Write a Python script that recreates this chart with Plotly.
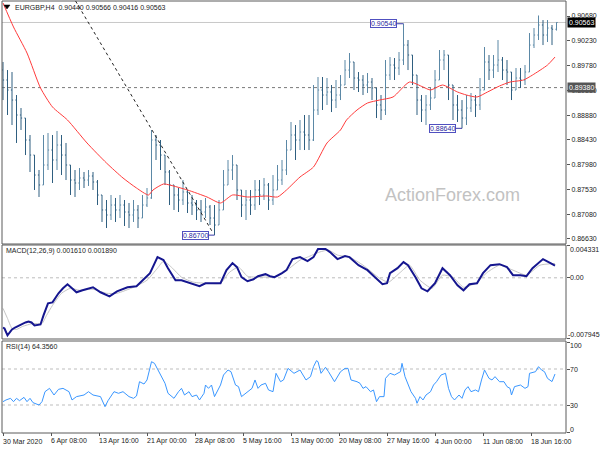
import plotly.graph_objects as go

# ---------------- data ----------------
symbol = "EURGBP,H4"
tick_labels = ["30 Mar 2020", "6 Apr 08:00", "13 Apr 16:00", "21 Apr 00:00", "28 Apr 08:00",
               "5 May 16:00", "13 May 00:00", "20 May 08:00", "27 May 16:00", "4 Jun 00:00",
               "11 Jun 08:00", "18 Jun 16:00"]
tick_bars = [0, 32, 64, 96, 128, 160, 192, 224, 256, 288, 320, 352]   # H4 bar number of each label

bar_index = list(range(0, 370, 3))   # one bar every 3 H4 periods
first_open = 0.89700
closes = [
    0.89518, 0.89336, 0.89154, 0.88882, 0.88827, 0.88428, 0.88155, 0.87792, 0.87611, 0.87974,
    0.88246, 0.88065, 0.88337, 0.88155, 0.87974, 0.87701, 0.87647, 0.87738, 0.87701, 0.87774,
    0.87665, 0.87429, 0.87157, 0.87066, 0.87247, 0.87157, 0.87247, 0.87120, 0.87066, 0.87157,
    0.87011, 0.87247, 0.87375, 0.88428, 0.88337, 0.88155, 0.87847, 0.87611, 0.87429, 0.87338,
    0.87484, 0.87284, 0.87247, 0.87157, 0.87120, 0.87211, 0.87011, 0.86884, 0.87157, 0.87611,
    0.87883, 0.87974, 0.87520, 0.87247, 0.87338, 0.87247, 0.87520, 0.87429, 0.87611, 0.87338,
    0.87520, 0.87701, 0.87883, 0.88246, 0.88519, 0.88428, 0.88573, 0.88519, 0.88428, 0.88973,
    0.89336, 0.89245, 0.89300, 0.89154, 0.89245, 0.89427, 0.89699, 0.89845, 0.89554, 0.89518,
    0.89427, 0.89481, 0.89373, 0.89064, 0.88973, 0.89608, 0.89790, 0.89736, 0.89881, 0.90153,
    0.89972, 0.89608, 0.89154, 0.88973, 0.89064, 0.89191, 0.89518, 0.89881, 0.89972, 0.89427,
    0.89064, 0.88973, 0.88827, 0.89009, 0.89154, 0.89064, 0.89336, 0.89845, 0.89699, 0.89790,
    0.89881, 0.89699, 0.89663, 0.89336, 0.89554, 0.89518, 0.89663, 0.90153, 0.90335, 0.90517,
    0.90335, 0.90462, 0.90440, 0.90563]
highs = [
    0.89845, 0.89699, 0.89663, 0.89245, 0.89009, 0.88700, 0.88519, 0.88155, 0.87883, 0.88519,
    0.88555, 0.88519, 0.88592, 0.88519, 0.88374, 0.87974, 0.87883, 0.87919, 0.87847, 0.87883,
    0.87847, 0.87701, 0.87429, 0.87338, 0.87429, 0.87375, 0.87429, 0.87338, 0.87284, 0.87338,
    0.87247, 0.87429, 0.87556, 0.88610, 0.88519, 0.88428, 0.88065, 0.87883, 0.87611, 0.87556,
    0.87701, 0.87520, 0.87429, 0.87338, 0.87338, 0.87375, 0.87247, 0.87247, 0.87338, 0.87883,
    0.88065, 0.88155, 0.87792, 0.87520, 0.87520, 0.87520, 0.87701, 0.87701, 0.87738, 0.87647,
    0.87792, 0.87974, 0.88065, 0.88428, 0.88755, 0.88700, 0.88791, 0.88882, 0.88882, 0.89427,
    0.89572, 0.89572, 0.89554, 0.89427, 0.89518, 0.89608, 0.89881, 0.90008, 0.89790, 0.89663,
    0.89608, 0.89645, 0.89554, 0.89336, 0.89245, 0.89881, 0.89935, 0.89917, 0.90026, 0.90540,
    0.90244, 0.89881, 0.89518, 0.89245, 0.89245, 0.89373, 0.89699, 0.90063, 0.90063, 0.89790,
    0.89336, 0.89245, 0.89154, 0.89245, 0.89282, 0.89245, 0.89554, 0.90117, 0.89972, 0.89972,
    0.90244, 0.89935, 0.89881, 0.89663, 0.89736, 0.89736, 0.89790, 0.90371, 0.90462, 0.90690,
    0.90607, 0.90607, 0.90517, 0.90566]
lows = [
    0.89154, 0.88882, 0.88700, 0.88374, 0.88610, 0.88155, 0.87847, 0.87520, 0.87393, 0.87611,
    0.87883, 0.87647, 0.87883, 0.87792, 0.87701, 0.87429, 0.87393, 0.87520, 0.87556, 0.87593,
    0.87520, 0.87247, 0.86939, 0.86829, 0.86975, 0.86939, 0.87011, 0.86866, 0.86829, 0.86939,
    0.86829, 0.87066, 0.87211, 0.87360, 0.88065, 0.87883, 0.87611, 0.87247, 0.87157, 0.87120,
    0.87247, 0.87102, 0.87066, 0.86975, 0.86939, 0.87011, 0.86884, 0.86700, 0.86939, 0.87247,
    0.87611, 0.87701, 0.87338, 0.87030, 0.86975, 0.87066, 0.87157, 0.87247, 0.87338, 0.87157,
    0.87247, 0.87520, 0.87611, 0.87792, 0.88246, 0.88065, 0.88246, 0.88246, 0.88246, 0.88410,
    0.88882, 0.88973, 0.89064, 0.88936, 0.89009, 0.89154, 0.89427, 0.89554, 0.89336, 0.89300,
    0.89245, 0.89282, 0.89154, 0.88827, 0.88791, 0.88882, 0.89518, 0.89518, 0.89608, 0.89790,
    0.89699, 0.89427, 0.88882, 0.88755, 0.88700, 0.88973, 0.89245, 0.89518, 0.89699, 0.89154,
    0.88791, 0.88755, 0.88640, 0.88700, 0.88936, 0.88846, 0.88973, 0.89336, 0.89518, 0.89554,
    0.89663, 0.89518, 0.89427, 0.89154, 0.89336, 0.89373, 0.89427, 0.89663, 0.90099, 0.90244,
    0.90153, 0.90208, 0.90153, 0.90416]

ma_x = [0, 7, 16, 25, 33, 43, 56, 69, 80, 89, 97, 100, 107, 111, 123, 136, 145, 153, 163, 176,
        183, 189, 198, 207, 216, 225, 229, 236, 243, 251, 260, 271, 280, 285, 293, 303, 309, 316,
        323, 331, 338, 347, 353, 363, 368]
ma_v = [0.90917, 0.90481, 0.90008, 0.89373, 0.89028, 0.88791, 0.88374, 0.88010, 0.87738, 0.87556,
        0.87429, 0.87520, 0.87629, 0.87611, 0.87520, 0.87393, 0.87284, 0.87429, 0.87393, 0.87411,
        0.87393, 0.87520, 0.87756, 0.87938, 0.88374, 0.88610, 0.88791, 0.88973, 0.89100, 0.89154,
        0.89209, 0.89481, 0.89391, 0.89336, 0.89427, 0.89300, 0.89245, 0.89209, 0.89300, 0.89409,
        0.89481, 0.89518, 0.89608, 0.89790, 0.89935]

macd_x = [0, 1, 3, 6, 8, 13, 15, 17, 19, 21, 25, 27, 30, 33, 37, 40, 43, 46, 49, 53, 60, 65, 71, 76,
          83, 89, 93, 98, 103, 107, 110, 115, 119, 125, 131, 135, 141, 145, 149, 153, 156, 159, 163,
          167, 170, 175, 178, 181, 186, 189, 193, 198, 203, 207, 210, 215, 218, 223, 228, 231, 237,
          243, 248, 253, 256, 258, 263, 267, 270, 275, 279, 283, 288, 293, 298, 303, 307, 311, 316,
          320, 325, 331, 336, 340, 345, 349, 353, 360, 365, 368]
macd_v = [-0.00656, -0.00669, -0.00760, -0.00682, -0.00656, -0.00603, -0.00589, -0.00576, -0.00589,
          -0.00629, -0.00616, -0.00496, -0.00337, -0.00324, -0.00204, -0.00138, -0.00085, -0.00138,
          -0.00191, -0.00165, -0.00125, -0.00191, -0.00244, -0.00178, -0.00125, -0.00111, -0.00032,
          0.00061, 0.00273, 0.00234, 0.00127, -0.00032, -0.00032, -0.00072, -0.00111, -0.00072,
          -0.00072, -0.00072, 0.00101, 0.00194, 0.00141, 0.00008, -0.00045, -0.00019, 0.00021,
          0.00048, 0.00021, 0.00008, 0.00061, 0.00101, 0.00247, 0.00273, 0.00220, 0.00273, 0.00380,
          0.00380, 0.00340, 0.00247, 0.00287, 0.00273, 0.00167, 0.00101, 0.00008, -0.00085, -0.00072,
          0.00061, 0.00127, 0.00207, 0.00167, 0.00008, -0.00138, -0.00178, -0.00072, 0.00127, 0.00035,
          -0.00098, -0.00165, -0.00085, -0.00072, 0.00061, 0.00167, 0.00180, 0.00141, 0.00035, 0.00035,
          0.00021, 0.00127, 0.00247, 0.00194, 0.00161]
sig_x = [0, 3, 6, 9, 13, 20, 26, 29, 33, 39, 45, 51, 60, 69, 76, 87, 96, 103, 107, 113, 119, 127,
         136, 145, 151, 157, 163, 171, 183, 191, 198, 203, 211, 217, 223, 231, 240, 251, 257, 265,
         271, 278, 286, 293, 300, 307, 315, 323, 331, 340, 349, 358, 368]
sig_v = [-0.00403, -0.00536, -0.00669, -0.00682, -0.00642, -0.00603, -0.00603, -0.00496, -0.00364,
         -0.00204, -0.00138, -0.00165, -0.00151, -0.00204, -0.00204, -0.00125, -0.00032, 0.00127,
         0.00220, 0.00127, 0.00008, -0.00058, -0.00072, -0.00072, 0.00074, 0.00141, 0.00021, 0.00008,
         0.00021, 0.00127, 0.00234, 0.00273, 0.00340, 0.00366, 0.00300, 0.00273, 0.00167, -0.00005,
         -0.00058, 0.00074, 0.00167, -0.00032, -0.00138, 0.00035, 0.00008, -0.00125, -0.00072,
         0.00074, 0.00167, 0.00101, 0.00035, 0.00167, 0.00189]
macd_scale = [-0.007945, 0.004331]

rsi_x = [0, 2, 5, 7, 9, 11, 14, 16, 18, 20, 24, 26, 28, 31, 34, 37, 40, 44, 46, 49,
         54, 57, 60, 65, 68, 70, 74, 77, 80, 84, 87, 89, 91, 94, 96, 99, 101, 104, 106, 108,
         110, 114, 117, 119, 121, 124, 126, 129, 131, 134, 135, 137, 139, 141, 145, 147, 150, 152, 155, 157,
         159, 162, 166, 168, 170, 172, 175, 177, 180, 182, 185, 187, 190, 194, 196, 198, 200, 202, 205, 207,
         209, 210, 212, 215, 217, 219, 221, 225, 228, 230, 232, 236, 238, 240, 242, 245, 247, 249, 251, 254,
         255, 258, 261, 265, 266, 268, 270, 272, 275, 276, 278, 280, 282, 285, 287, 289, 292, 295, 297, 299,
         301, 304, 306, 308, 310, 312, 315, 317, 319, 321, 324, 326, 328, 331, 334, 336, 338, 339, 341, 345,
         348, 350, 351, 355, 357, 359, 361, 363, 366, 368]
rsi_v = [33.7, 35.6, 37.4, 33.7, 37.4, 34.8, 38.5, 33.7, 37.4, 32.6,
         30.0, 33.7, 44.8, 48.5, 41.1, 47.4, 48.5, 44.8, 35.6, 39.3,
         41.1, 44.8, 41.1, 39.3, 28.1, 34.8, 44.8, 43.0, 44.8, 39.3,
         37.4, 40.0, 55.9, 53.3, 57.8, 78.1, 76.3, 67.0, 59.6, 54.1,
         43.0, 37.4, 44.8, 48.5, 41.1, 44.8, 39.3, 41.1, 35.6, 43.0,
         52.2, 48.5, 52.2, 39.3, 52.2, 63.3, 68.9, 67.0, 52.2, 50.4,
         39.3, 43.0, 48.5, 57.8, 48.5, 52.2, 54.1, 46.7, 44.8, 65.2,
         55.9, 57.8, 70.7, 65.2, 67.0, 68.9, 63.3, 57.8, 61.5, 72.6,
         79.3, 78.1, 65.2, 71.9, 67.0, 61.5, 55.9, 67.0, 70.7, 70.7,
         57.8, 55.9, 54.1, 48.5, 50.4, 44.8, 46.7, 33.7, 39.3, 39.3,
         59.6, 65.2, 63.3, 67.0, 76.3, 61.5, 54.1, 44.8, 37.4, 31.9,
         39.3, 35.6, 41.1, 44.8, 52.2, 55.9, 63.3, 65.2, 48.5, 39.3,
         35.6, 41.1, 37.4, 46.7, 50.4, 44.8, 46.7, 44.8, 57.8, 68.9,
         59.6, 57.8, 61.5, 55.9, 55.9, 50.4, 48.5, 41.1, 50.4, 52.2,
         48.5, 50.4, 65.2, 67.0, 72.6, 68.9, 67.0, 59.6, 56.0, 64.4]
rsi_last = 64.3560
rsi_levels = [70, 30]
rsi_ticks = [100, 70, 30, 0]

main_ticks = [0.90680, 0.90230, 0.89780, 0.89330, 0.88880, 0.88430, 0.87980, 0.87530, 0.87080, 0.86630]
level_price = 0.89380
trend_x = [48.4, 140]
trend_y = [0.90952, 0.86740]
swing_bars = [267, 141, 306]
swing_prices = [0.90540, 0.86700, 0.88640]
swing_label_bars = [262.7, 137.3, 302.0]

# ---------------- derived ----------------
opens = [first_open] + closes[:-1]
highs = [max(h, o, c) for h, o, c in zip(highs, opens, closes)]
lows = [min(l, o, c) for l, o, c in zip(lows, opens, closes)]

W, H = 600, 450
def px(x): return x / W
def py(y): return 1 - y / H

XL, XR = 2, 566
x_range = [(XL - 3) / 1.5, (XR - 3) / 1.5]
FONT = "Liberation Sans, Arial, sans-serif"

fig = go.Figure()
fig.add_trace(go.Ohlc(x=bar_index, open=opens, high=highs, low=lows, close=closes,
                      increasing=dict(line=dict(color="#5b88a6", width=1)),
                      decreasing=dict(line=dict(color="#2f5f80", width=1)),
                      tickwidth=0.25, xaxis="x", yaxis="y", hoverinfo="skip"))
fig.add_trace(go.Scatter(x=ma_x, y=ma_v, mode="lines", line=dict(color="#ff3b3b", width=1, shape="spline", smoothing=0.6),
                         xaxis="x", yaxis="y", hoverinfo="skip"))
fig.add_trace(go.Scatter(x=sig_x, y=sig_v, mode="lines", line=dict(color="#c4c4c4", width=1, shape="spline", smoothing=0.5),
                         xaxis="x", yaxis="y2", hoverinfo="skip"))
fig.add_trace(go.Scatter(x=macd_x, y=macd_v, mode="lines", line=dict(color="#15168f", width=2),
                         xaxis="x", yaxis="y2", hoverinfo="skip"))
fig.add_trace(go.Scatter(x=rsi_x, y=rsi_v, mode="lines", line=dict(color="#3a97ff", width=1),
                         xaxis="x", yaxis="y3", hoverinfo="skip"))

shapes = []
for (y0, y1) in [(1, 244), (245, 339), (341, 433)]:
    shapes.append(dict(type="rect", xref="paper", yref="paper", x0=px(XL), x1=px(XR),
                       y0=py(y1), y1=py(y0), line=dict(color="#5a5a5a", width=1), layer="above"))
shapes.append(dict(type="line", xref="paper", yref="y", x0=px(XL), x1=px(XR), y0=closes[-1], y1=closes[-1],
                   line=dict(color="#c8c8c8", width=1), layer="below"))
shapes.append(dict(type="line", xref="paper", yref="y", x0=px(XL), x1=px(XR), y0=level_price, y1=level_price,
                   line=dict(color="#7a7a7a", width=1, dash="dot"), layer="below"))
shapes.append(dict(type="line", xref="x", yref="y", x0=trend_x[0], x1=trend_x[1], y0=trend_y[0], y1=trend_y[1],
                   line=dict(color="#222222", width=1, dash="dot")))
shapes.append(dict(type="line", xref="paper", yref="y2", x0=px(XL), x1=px(XR), y0=0, y1=0,
                   line=dict(color="#bdbdbd", width=1, dash="dot"), layer="below"))
for lv in rsi_levels:
    shapes.append(dict(type="line", xref="paper", yref="y3", x0=px(XL), x1=px(XR), y0=lv, y1=lv,
                       line=dict(color="#bdbdbd", width=1, dash="dot"), layer="below"))
for lb, b, p in zip(swing_label_bars, swing_bars, swing_prices):
    shapes.append(dict(type="line", xref="x", yref="y", x0=lb, x1=b, y0=p, y1=p,
                       line=dict(color="#3a3aa8", width=1)))
shapes.append(dict(type="path", xref="paper", yref="paper",
                   path=f"M {px(4)} {py(5)} L {px(10)} {py(5)} L {px(7)} {py(9)} Z",
                   fillcolor="black", line=dict(color="black", width=0.5)))

ann = []
ann.append(dict(xref="paper", yref="paper", x=px(13), y=py(7.5), xanchor="left", yanchor="middle", showarrow=False,
                text=f"{symbol}  {opens[-1]:.5f} {highs[-1]:.5f} {lows[-1]:.5f} {closes[-1]:.5f}",
                font=dict(family=FONT, size=7, color="#222")))
ann.append(dict(xref="paper", yref="paper", x=px(4), y=py(250.5), xanchor="left", yanchor="middle", showarrow=False,
                text=f"MACD(12,26,9) {macd_v[-1]:.6f} {sig_v[-1]:.6f}", font=dict(family=FONT, size=7, color="#222")))
ann.append(dict(xref="paper", yref="paper", x=px(4), y=py(346.5), xanchor="left", yanchor="middle", showarrow=False,
                text=f"RSI(14) {rsi_last:.4f}", font=dict(family=FONT, size=7, color="#222")))
ann.append(dict(xref="paper", yref="paper", x=px(452), y=py(195), xanchor="center", yanchor="middle", showarrow=False,
                text="ActionForex.com", font=dict(family=FONT, size=18, color="#c2c2c2")))
for b, t in zip(tick_bars, tick_labels):
    ann.append(dict(xref="x", yref="paper", x=b, y=py(441), xanchor="left", yanchor="middle", showarrow=False,
                    xshift=-2, text=t, font=dict(family=FONT, size=7, color="#222")))
for yy, t in [(249, f"{macd_scale[1]:.6f}"), (277.8, "0.00")]:
    ann.append(dict(xref="paper", yref="paper", x=px(568), y=py(yy), xanchor="left", yanchor="middle", showarrow=False,
                    text=t, font=dict(family=FONT, size=7, color="#222")))
ann.append(dict(xref="paper", yref="paper", x=px(566), y=py(334), xanchor="left", yanchor="middle", showarrow=False,
                text=f"{macd_scale[0]:.6f}", font=dict(family=FONT, size=7, color="#222")))
for yy, t in [(345.5, "100"), (369, "70"), (405, "30"), (429, "0")]:
    ann.append(dict(xref="paper", yref="paper", x=px(568), y=py(yy), xanchor="left", yanchor="middle", showarrow=False,
                    text=t, font=dict(family=FONT, size=7, color="#222")))
ann.append(dict(xref="paper", yref="y", x=px(567), y=closes[-1], xanchor="left", yanchor="middle", showarrow=False,
                text=f"{closes[-1]:.5f}", bgcolor="black", borderpad=1, font=dict(family=FONT, size=7, color="white")))
ann.append(dict(xref="paper", yref="y", x=px(567), y=level_price, xanchor="left", yanchor="middle", showarrow=False,
                text=f"{level_price:.5f}", bgcolor="#555555", borderpad=1, font=dict(family=FONT, size=7, color="white")))
for lb, p in zip(swing_label_bars, swing_prices):
    ann.append(dict(xref="x", yref="y", x=lb, y=p, xanchor="right", yanchor="middle", showarrow=False,
                    text=f"{p:.5f}", bgcolor="white", bordercolor="#5050c0", borderwidth=1, borderpad=0,
                    font=dict(family=FONT, size=7, color="#2a2aa0")))

fig.update_layout(
    width=600, height=450, margin=dict(l=0, r=0, t=0, b=0),
    paper_bgcolor="white", plot_bgcolor="white", showlegend=False,
    font=dict(family=FONT, size=7, color="#222"),
    shapes=shapes, annotations=ann,
    xaxis=dict(domain=[px(XL), px(XR)], range=x_range, anchor="y3", showgrid=False, zeroline=False,
               showline=False, ticks="outside", ticklen=3, tickcolor="#555", tickvals=tick_bars,
               showticklabels=False, rangeslider=dict(visible=False), fixedrange=True),
    yaxis=dict(domain=[py(244), py(1)], range=[0.86539, 0.90953], side="right", anchor="x",
               tickvals=main_ticks, tickformat=".5f", ticks="outside", ticklen=3, tickcolor="#555",
               tickfont=dict(family=FONT, size=7, color="#222"), showgrid=False, zeroline=False, showline=False),
    yaxis2=dict(domain=[py(338), py(245)], range=macd_scale, side="right", anchor="x",
                tickvals=[macd_scale[1], 0, macd_scale[0]], ticks="outside", ticklen=3, tickcolor="#555",
                showticklabels=False, showgrid=False, zeroline=False, showline=False),
    yaxis3=dict(domain=[py(432), py(342)], range=[0, 100], side="right", anchor="x",
                tickvals=rsi_ticks, ticks="outside", ticklen=3, tickcolor="#555",
                showticklabels=False, showgrid=False, zeroline=False, showline=False),
)

fig.write_html("out.html", config={"displayModeBar": False},
               post_script="document.body.style.margin='0';document.body.style.overflow='hidden';")
